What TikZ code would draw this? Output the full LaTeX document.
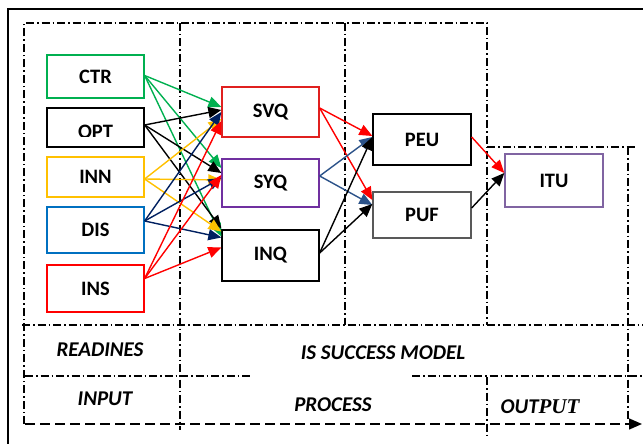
\documentclass[tikz,border=0pt]{standalone}
\usepackage{fontspec}
\setmainfont{Carlito}
\newfontfamily\serifpart{Liberation Serif}
\usetikzlibrary{arrows.meta,calc}
\definecolor{cgreen}{HTML}{00B050}
\definecolor{cyellow}{HTML}{FFC000}
\definecolor{cblue}{HTML}{0070C0}
\definecolor{cnavy}{HTML}{002060}
\definecolor{cred}{HTML}{FF0000}
\definecolor{cdred}{HTML}{E0201F}
\definecolor{cpurple}{HTML}{7030A0}
\definecolor{clpurple}{HTML}{8064A2}
\definecolor{cgrey}{HTML}{595959}
\definecolor{csteel}{HTML}{2B5289}
\begin{document}
\begin{tikzpicture}[x=1pt,y=-1pt,
  box/.style={draw, line width=1.3pt, minimum width=97pt, inner sep=0pt,
    font=\fontsize{20.5}{24}\selectfont\bfseries},
  arr/.style={-{Triangle[length=13pt,width=11pt]}, line width=1.4pt},
  dd/.style={line width=1.4pt, dash pattern=on 8pt off 3pt on 1.5pt off 3pt},
  lbl/.style={font=\fontsize{21}{24}\selectfont\bfseries\itshape, inner sep=0pt}]
\useasboundingbox (0,0) rectangle (643,444);
% outer solid frame
\draw[line width=1.5pt] (8,444) -- (8,9) -- (643,9);
% dash-dot frames
\draw[dd] (24,424) -- (24,23) -- (487,23) -- (487,325);
\draw[dd] (180,23) -- (180,430);
\draw[dd] (345,23) -- (345,325);
\draw[dd] (487,377) -- (487,437);
\draw[dd] (487,147) -- (635,147);
\draw[dd] (628,147) -- (628,420);
\draw[dd] (22,325) -- (643,325);
\draw[dd] (25,376) -- (252,376);
\draw[dd] (412,376) -- (643,376);
\draw[line width=1.4pt, dash pattern=on 10pt off 5pt, -{Triangle[length=13pt,width=11pt]}] (25,424) -- (642,424);
% boxes
\node[box, draw=cgreen, minimum height=43pt] (CTR) at (95.5,76.5) {CTR};
\node[box, minimum height=39pt] (OPT) at (95.5,127.5) {};
\begin{scope}
  \clip (47,108) rectangle (144,136.5);
  \node[font=\fontsize{20.5}{24}\selectfont\bfseries, inner sep=0pt, anchor=base] at (95.5,139) {OPT};
\end{scope}
\node[box, draw=cyellow, minimum height=40pt] (INN) at (95.5,177) {INN};
\node[box, draw=cblue, minimum height=46pt] (DIS) at (95.5,230) {DIS};
\node[box, draw=cred, minimum height=47pt] (INS) at (95.5,288.5) {INS};
\node[box, draw=cdred, minimum height=50pt] (SVQ) at (270.5,112) {SVQ};
\node[box, draw=cpurple, minimum height=48pt] (SYQ) at (270.5,183) {SYQ};
\node[box, minimum height=51pt] (INQ) at (270.5,255.5) {INQ};
\node[box, minimum width=98pt, minimum height=51pt] (PEU) at (422,139.5) {PEU};
\node[box, draw=cgrey, minimum width=98pt, minimum height=46pt] (PUF) at (422,215) {PUF};
\node[box, draw=clpurple, minimum width=98pt, minimum height=53pt] (ITU) at (554,180.5) {ITU};
% stage 1 connectors
\draw[arr, cgreen] ($(CTR.east)+(0,-1)$) -- ($(SVQ.west)+(0,-5)$);
\draw[arr, cgreen] ($(CTR.east)+(0,-1)$) -- ($(SYQ.west)+(0,-15)$);
\draw[arr, cgreen] ($(CTR.east)+(0,-1)$) -- ($(INQ.west)+(0,-19)$);
\draw[arr, black] ($(OPT.east)+(0,-2.5)$) -- ($(SVQ.west)+(0,-2)$);
\draw[arr, black] ($(OPT.east)+(0,-2.5)$) -- ($(SYQ.west)+(0,-10)$);
\draw[arr, black] ($(OPT.east)+(0,-2.5)$) -- ($(INQ.west)+(0,-27)$);
\draw[arr, cyellow] ($(INN.east)+(0,2)$) -- ($(SVQ.west)+(0,7)$);
\draw[arr, cyellow] ($(INN.east)+(0,2)$) -- ($(SYQ.west)+(0,-3)$);
\draw[arr, cyellow] ($(INN.east)+(0,2)$) -- ($(INQ.west)+(0,-24)$);
\draw[arr, cnavy] ($(DIS.east)+(0,-9)$) -- ($(SVQ.west)+(0,0)$);
\draw[arr, cnavy] ($(DIS.east)+(0,-9)$) -- ($(SYQ.west)+(0,-5)$);
\draw[arr, cnavy] ($(DIS.east)+(0,-9)$) -- ($(INQ.west)+(0,-18)$);
\draw[arr, cred] ($(INS.east)+(0,-10)$) -- ($(SVQ.west)+(0,9)$);
\draw[arr, cred] ($(INS.east)+(0,-10)$) -- ($(SYQ.west)+(0,-8)$);
\draw[arr, cred] ($(INS.east)+(0,-10)$) -- ($(INQ.west)+(0,-8)$);
% stage 2 connectors
\draw[arr, cred] ($(SVQ.east)+(0,-4)$) -- ($(PEU.west)+(0,-3.5)$);
\draw[arr, cred] ($(SVQ.east)+(0,-4)$) -- ($(PUF.west)+(0,-15)$);
\draw[arr, csteel] ($(SYQ.east)+(0,-7)$) -- ($(PEU.west)+(0,-2.5)$);
\draw[arr, csteel] ($(SYQ.east)+(0,-7)$) -- ($(PUF.west)+(0,-10)$);
\draw[arr, black] ($(INQ.east)+(0,-2.5)$) -- ($(PEU.west)+(0,-2.5)$);
\draw[arr, black] ($(INQ.east)+(0,-2.5)$) -- ($(PUF.west)+(0,-11)$);
\draw[arr, cred] ($(PEU.east)+(0,-2.5)$) -- ($(ITU.west)+(0,-7.5)$);
\draw[arr, black] ($(PUF.east)+(0,-7)$) -- ($(ITU.west)+(0,-7.5)$);
% bottom labels
\node[lbl] (readines) at (100,350) {READINES};
\node[lbl] (issm) at (383,353) {IS SUCCESS MODEL};
\node[lbl] (input) at (105,399) {INPUT};
\node[lbl] (process) at (333,405) {PROCESS};
\node[lbl] (output) at (540,407) {OUT{\serifpart PUT}};
\end{tikzpicture}
\end{document}
